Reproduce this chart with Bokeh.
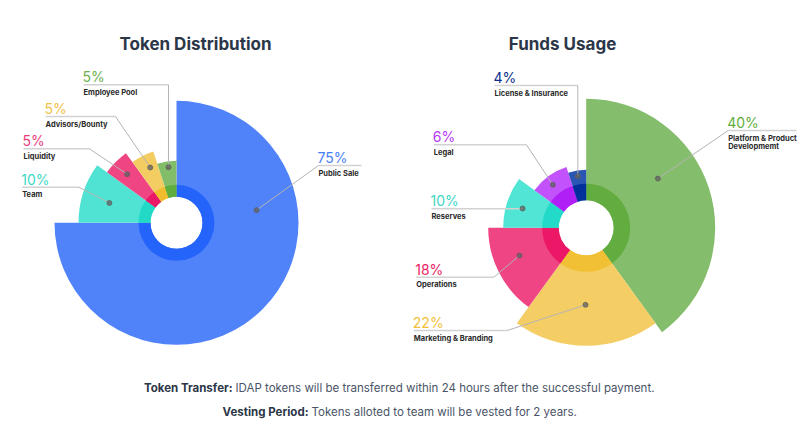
import math
from bokeh.plotting import figure
from bokeh.models import Range1d, ColumnDataSource
from bokeh.embed import file_html
from bokeh.resources import INLINE
from bokeh.core.properties import value

# ---------------- data ----------------
dist_title = "Token Distribution"
dist_names = ["Public Sale", "Team", "Liquidity", "Advisors/Bounty", "Employee Pool"]
dist_pct = [75, 10, 5, 5, 5]

funds_title = "Funds Usage"
funds_names = ["Platform & Product\nDevelopmemt", "Marketing & Branding", "Operations",
               "Reserves", "Legal", "License & Insurance"]
funds_pct = [40, 22, 18, 10, 6, 4]
# slice sizes as they are actually drawn in the picture (they differ from the labels)
funds_drawn = [40, 20, 15, 10, 10, 5]

note_bold = ["Token Transfer:", "Vesting Period:"]
note_text = ["IDAP tokens will be transferred within 24 hours after the successful payment.",
             "Tokens alloted to team will be vested for 2 years."]

# ---------------- layout / style ----------------
W, H = 800, 429
FONT = "Inter"

dist_layout = dict(
    center=(176, 222.3), hole=26, ring=38, title_pos=(195, 43),
    outer=[122, 98, 86, 75, 62],
    outer_colors=["#5083fa", "#50e3d3", "#ef4583", "#f4cd62", "#82bd6a"],
    inner_colors=["#2464fa", "#22d8c6", "#eb1767", "#f1bd2e", "#60ad3f"],
    text_colors=["#4a7ef8", "#3ed8c7", "#ea3d7d", "#f2c14a", "#6cb04e"],
    dots=[(81, 81), (286.5, 70), (314.6, 69.3), (334.6, 61.2), (351.8, 56.2)],
    labels=[(318, 165, 361), (21.7, 186.7, 78.3), (23, 148.3, 89), (45, 116, 115), (83, 84.3, 168)],
)
funds_layout = dict(
    center=(585.7, 227.3), hole=27.5, ring=44, title_pos=(562, 43),
    outer=[129, 118, 98, 83, 64, 58],
    outer_colors=["#84bd6b", "#f4ce64", "#ef4584", "#50e5d4", "#c252fb", "#2b55b3"],
    inner_colors=["#63ad40", "#f1c035", "#ec1766", "#22dac7", "#b020f6", "#01309b"],
    text_colors=["#5fad3c", "#f2c03a", "#ea2464", "#3ed8c7", "#b43af5", "#0c2f8e"],
    dots=[(55.5, 87), (180.5, 77), (247.4, 72.2), (286.9, 66.5), (322.2, 54.4), (350.8, 52.3)],
    labels=[(727.7, 130, 796), (413.3, 330, 506.7), (415.7, 276.7, 493.3), (431, 208.3, 522),
            (433.3, 144.3, 526), (494, 85, 577.3)],
)

p = figure(width=W, height=H, x_range=Range1d(0, W), y_range=Range1d(0, H),
           output_backend="svg", toolbar_location=None, min_border=0)
p.axis.visible = False
p.grid.visible = False
p.outline_line_color = None
p.background_fill_color = "white"
p.border_fill_color = "white"


def Y(y):
    return H - y


def draw_chart(title, names, pct, shares, L):
    cx, cy = L["center"]
    total = float(sum(shares))
    starts, ends = [], []
    acc = 0.0
    for s in shares:
        t1 = acc / total * 360.0
        acc += s
        t2 = acc / total * 360.0
        starts.append(math.radians(90 - t2))
        ends.append(math.radians(90 - t1))
    n = len(shares)
    src = ColumnDataSource(dict(
        x=[cx] * n, y=[Y(cy)] * n, s=starts, e=ends,
        outer=L["outer"], oc=L["outer_colors"], ic=L["inner_colors"],
    ))
    p.annular_wedge(x="x", y="y", inner_radius=L["hole"], outer_radius="outer",
                    start_angle="s", end_angle="e", fill_color="oc", line_color=None, source=src)
    p.annular_wedge(x="x", y="y", inner_radius=L["hole"], outer_radius=L["ring"],
                    start_angle="s", end_angle="e", fill_color="ic", line_color=None, source=src)

    # leader lines, dots, labels
    dx, dy = [], []
    for (ang, r), (xl, yl, xr), name, v, tc in zip(L["dots"], L["labels"], names, pct, L["text_colors"]):
        px = cx + r * math.sin(math.radians(ang))
        py = cy - r * math.cos(math.radians(ang))
        dx.append(px)
        dy.append(Y(py))
        p.line([xl, xr], [Y(yl), Y(yl)], line_color="#d2d2d2", line_width=1.5)
        ax = xl if px < xl else xr
        p.line([ax, px], [Y(yl), Y(py)], line_color="#b4b4b4", line_width=1)
        p.text([xl - 1], [Y(yl - 8)], text=[f"{v}%"], text_font=value(FONT), text_font_size="14px",
               text_color=tc, text_align="left", text_baseline="middle")
        for k, part in enumerate(name.split("\n")):
            p.text([xl], [Y(yl + 7.5 + 8.5 * k)], text=[part], text_font=value(FONT),
                   text_font_size="7.5px", text_font_style="bold", text_color="#2a2a2a",
                   text_align="left", text_baseline="middle")
    p.scatter(dx, dy, size=5, color="#5f5f5f", alpha=0.75)

    tx, ty = L["title_pos"]
    p.text([tx], [Y(ty)], text=[title], text_font=value(FONT), text_font_size="17px",
           text_font_style="bold", text_color="#2b3648", text_align="center", text_baseline="middle")


draw_chart(dist_title, dist_names, dist_pct, dist_pct, dist_layout)
draw_chart(funds_title, funds_names, funds_pct, funds_drawn, funds_layout)

# bottom notes
note_split = [232, 308]
note_y = [387, 411]
for b, t, sx, yy in zip(note_bold, note_text, note_split, note_y):
    p.text([sx], [Y(yy)], text=[b], text_font=value(FONT), text_font_size="11.5px",
           text_font_style="bold", text_color="#2b3648", text_align="right", text_baseline="middle")
    p.text([sx + 3], [Y(yy)], text=[t], text_font=value(FONT), text_font_size="11.5px",
           text_color="#4a5468", text_align="left", text_baseline="middle")

open("out.html", "w").write(file_html(p, INLINE))
